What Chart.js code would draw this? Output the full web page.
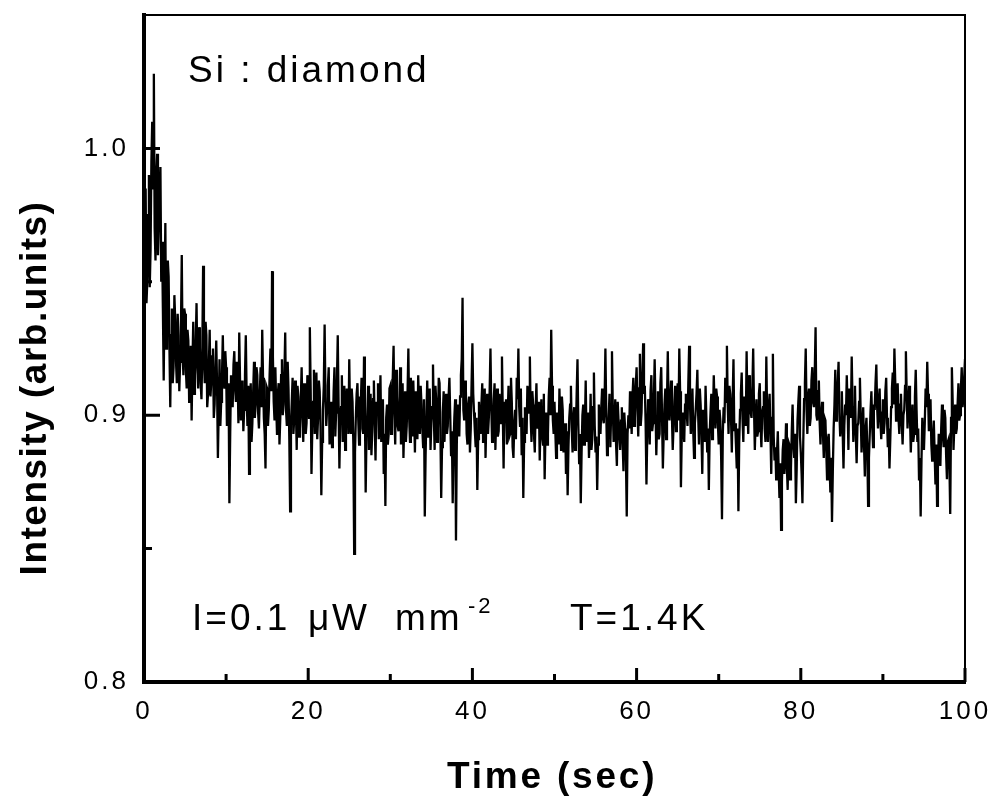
<!DOCTYPE html>
<html>
<head>
<meta charset="utf-8">
<script src="https://cdn.jsdelivr.net/npm/chart.js@4.4.1/dist/chart.umd.min.js"></script>
<style>
  html, body { margin: 0; padding: 0; background: #fff; }
  #c { display: block; }
</style>
</head>
<body>
<canvas id="c" width="997" height="797"></canvas>
<script>
// Photoluminescence intensity of the Si:diamond sample, one reading every 0.1 s.
const sampleStep = 0.1; // seconds between readings
const intensity = [
  // 0 - 9.9 s
  0.944, 0.968, 0.985, 0.942, 0.950, 0.975, 0.990, 0.948, 0.962, 0.995,
  1.010, 0.985, 1.028, 0.970, 0.958, 0.990, 0.998, 0.960, 0.972, 0.982,
  0.993, 0.950, 0.965, 0.940, 0.913, 0.945, 0.972, 0.925, 0.935, 0.958,
  0.952, 0.925, 0.903, 0.930, 0.940, 0.912, 0.918, 0.945, 0.936, 0.920,
  0.912, 0.938, 0.930, 0.909, 0.920, 0.933, 0.960, 0.924, 0.915, 0.940,
  0.938, 0.917, 0.910, 0.932, 0.928, 0.905, 0.912, 0.926, 0.898, 0.919,
  0.935, 0.908, 0.915, 0.927, 0.942, 0.918, 0.910, 0.933, 0.926, 0.912,
  0.906, 0.924, 0.956, 0.921, 0.912, 0.935, 0.930, 0.903, 0.908, 0.919,
  0.932, 0.907, 0.913, 0.922, 0.925, 0.899, 0.904, 0.917, 0.928, 0.911,
  0.884, 0.902, 0.921, 0.896, 0.905, 0.915, 0.930, 0.913, 0.910, 0.924,
  // 10 - 19.9 s
  0.918, 0.896, 0.900, 0.912, 0.867, 0.893, 0.915, 0.908, 0.903, 0.919,
  0.924, 0.910, 0.905, 0.920, 0.916, 0.897, 0.931, 0.913, 0.898, 0.907,
  0.913, 0.894, 0.902, 0.915, 0.930, 0.908, 0.896, 0.911, 0.878, 0.903,
  0.912, 0.890, 0.897, 0.909, 0.920, 0.899, 0.904, 0.918, 0.915, 0.901,
  0.895, 0.907, 0.918, 0.903, 0.932, 0.914, 0.899, 0.893, 0.880, 0.911,
  0.910, 0.896, 0.902, 0.915, 0.925, 0.909, 0.954, 0.922, 0.905, 0.898,
  0.918, 0.904, 0.893, 0.908, 0.912, 0.889, 0.899, 0.915, 0.921, 0.900,
  0.904, 0.915, 0.931, 0.902, 0.896, 0.920, 0.910, 0.891, 0.864, 0.897,
  0.905, 0.914, 0.893, 0.899, 0.913, 0.903, 0.887, 0.911, 0.907, 0.892,
  0.895, 0.906, 0.918, 0.901, 0.890, 0.912, 0.904, 0.893, 0.897, 0.915,
  // 20 - 29.9 s
  0.912, 0.899, 0.933, 0.910, 0.878, 0.895, 0.905, 0.917, 0.893, 0.902,
  0.916, 0.891, 0.899, 0.913, 0.909, 0.896, 0.870, 0.890, 0.902, 0.911,
  0.934, 0.907, 0.896, 0.902, 0.911, 0.918, 0.889, 0.897, 0.905, 0.888,
  0.894, 0.909, 0.918, 0.892, 0.901, 0.913, 0.930, 0.904, 0.880, 0.898,
  0.903, 0.915, 0.890, 0.900, 0.911, 0.887, 0.897, 0.910, 0.906, 0.893,
  0.921, 0.900, 0.893, 0.910, 0.905, 0.889, 0.848, 0.886, 0.899, 0.908,
  0.912, 0.898, 0.889, 0.907, 0.904, 0.914, 0.895, 0.893, 0.922, 0.904,
  0.871, 0.893, 0.900, 0.911, 0.887, 0.899, 0.908, 0.885, 0.894, 0.906,
  0.913, 0.897, 0.883, 0.905, 0.902, 0.912, 0.891, 0.900, 0.915, 0.890,
  0.897, 0.906, 0.878, 0.893, 0.866, 0.899, 0.904, 0.889, 0.893, 0.910,
  // 30 - 39.9 s
  0.911, 0.893, 0.898, 0.914, 0.926, 0.900, 0.889, 0.917, 0.907, 0.896,
  0.894, 0.905, 0.918, 0.889, 0.901, 0.912, 0.884, 0.897, 0.909, 0.890,
  0.896, 0.908, 0.925, 0.899, 0.890, 0.914, 0.903, 0.892, 0.913, 0.901,
  0.886, 0.909, 0.898, 0.891, 0.915, 0.902, 0.893, 0.911, 0.904, 0.895,
  0.888, 0.906, 0.862, 0.885, 0.900, 0.913, 0.892, 0.899, 0.910, 0.887,
  0.897, 0.903, 0.919, 0.900, 0.887, 0.911, 0.905, 0.890, 0.895, 0.914,
  0.912, 0.895, 0.869, 0.888, 0.901, 0.909, 0.890, 0.903, 0.908, 0.893,
  0.896, 0.907, 0.914, 0.900, 0.885, 0.894, 0.867, 0.889, 0.899, 0.906,
  0.853, 0.889, 0.904, 0.898, 0.892, 0.907, 0.915, 0.921, 0.944, 0.902,
  0.898, 0.913, 0.910, 0.893, 0.889, 0.904, 0.907, 0.886, 0.895, 0.912,
  // 40 - 49.9 s
  0.927, 0.908, 0.901, 0.894, 0.888, 0.899, 0.872, 0.891, 0.905, 0.897,
  0.893, 0.904, 0.912, 0.890, 0.897, 0.910, 0.884, 0.899, 0.908, 0.893,
  0.899, 0.909, 0.925, 0.903, 0.890, 0.896, 0.906, 0.912, 0.887, 0.900,
  0.910, 0.892, 0.894, 0.908, 0.903, 0.897, 0.922, 0.901, 0.880, 0.905,
  0.898, 0.906, 0.889, 0.900, 0.911, 0.892, 0.893, 0.914, 0.905, 0.888,
  0.884, 0.897, 0.902, 0.891, 0.914, 0.906, 0.925, 0.903, 0.896, 0.910,
  0.885, 0.899, 0.869, 0.890, 0.903, 0.895, 0.893, 0.911, 0.908, 0.901,
  0.922, 0.899, 0.890, 0.909, 0.904, 0.893, 0.886, 0.902, 0.912, 0.895,
  0.897, 0.905, 0.883, 0.898, 0.906, 0.892, 0.889, 0.908, 0.876, 0.894,
  0.901, 0.889, 0.893, 0.907, 0.914, 0.900, 0.932, 0.911, 0.898, 0.893,
  // 50 - 59.9 s
  0.905, 0.894, 0.884, 0.901, 0.897, 0.889, 0.910, 0.898, 0.887, 0.907,
  0.902, 0.886, 0.891, 0.897, 0.878, 0.894, 0.870, 0.888, 0.899, 0.904,
  0.911, 0.895, 0.886, 0.899, 0.903, 0.887, 0.893, 0.908, 0.921, 0.897,
  0.882, 0.893, 0.867, 0.886, 0.900, 0.904, 0.889, 0.896, 0.913, 0.890,
  0.895, 0.901, 0.884, 0.893, 0.908, 0.887, 0.891, 0.903, 0.916, 0.896,
  0.886, 0.892, 0.872, 0.889, 0.904, 0.897, 0.893, 0.903, 0.910, 0.899,
  0.897, 0.905, 0.925, 0.902, 0.885, 0.893, 0.899, 0.908, 0.888, 0.901,
  0.924, 0.903, 0.890, 0.896, 0.906, 0.889, 0.881, 0.905, 0.898, 0.892,
  0.887, 0.898, 0.903, 0.890, 0.879, 0.901, 0.895, 0.884, 0.862, 0.893,
  0.900, 0.895, 0.909, 0.902, 0.893, 0.907, 0.914, 0.896, 0.899, 0.911,
  // 60 - 69.9 s
  0.918, 0.904, 0.892, 0.910, 0.923, 0.896, 0.901, 0.915, 0.927, 0.908,
  0.911, 0.897, 0.874, 0.893, 0.906, 0.901, 0.889, 0.909, 0.915, 0.894,
  0.897, 0.906, 0.921, 0.903, 0.885, 0.898, 0.909, 0.891, 0.893, 0.912,
  0.918, 0.899, 0.880, 0.893, 0.904, 0.910, 0.891, 0.905, 0.924, 0.902,
  0.898, 0.907, 0.913, 0.900, 0.887, 0.896, 0.905, 0.911, 0.894, 0.903,
  0.912, 0.898, 0.925, 0.909, 0.873, 0.892, 0.901, 0.896, 0.890, 0.904,
  0.908, 0.901, 0.896, 0.912, 0.926, 0.905, 0.893, 0.899, 0.910, 0.894,
  0.884, 0.897, 0.902, 0.908, 0.917, 0.900, 0.889, 0.910, 0.904, 0.893,
  0.878, 0.902, 0.897, 0.890, 0.911, 0.899, 0.886, 0.895, 0.872, 0.893,
  0.901, 0.908, 0.891, 0.899, 0.915, 0.903, 0.895, 0.910, 0.907, 0.897,
  // 70 - 79.9 s
  0.889, 0.902, 0.898, 0.884, 0.861, 0.893, 0.903, 0.897, 0.914, 0.905,
  0.926, 0.904, 0.893, 0.911, 0.908, 0.899, 0.886, 0.906, 0.921, 0.894,
  0.897, 0.889, 0.880, 0.895, 0.864, 0.890, 0.902, 0.908, 0.916, 0.899,
  0.890, 0.907, 0.905, 0.896, 0.924, 0.902, 0.893, 0.915, 0.911, 0.901,
  0.899, 0.910, 0.925, 0.903, 0.887, 0.898, 0.906, 0.892, 0.894, 0.908,
  0.912, 0.896, 0.888, 0.901, 0.903, 0.909, 0.895, 0.890, 0.922, 0.900,
  0.890, 0.903, 0.908, 0.894, 0.878, 0.899, 0.923, 0.892, 0.883, 0.888,
  0.876, 0.886, 0.894, 0.880, 0.869, 0.882, 0.857, 0.875, 0.887, 0.891,
  0.878, 0.885, 0.897, 0.881, 0.872, 0.890, 0.889, 0.876, 0.880, 0.894,
  0.904, 0.889, 0.884, 0.893, 0.867, 0.880, 0.898, 0.905, 0.911, 0.892,
  // 80 - 89.9 s
  0.886, 0.878, 0.867, 0.890, 0.906, 0.912, 0.925, 0.902, 0.893, 0.907,
  0.910, 0.896, 0.899, 0.913, 0.918, 0.905, 0.903, 0.916, 0.933, 0.900,
  0.898, 0.909, 0.913, 0.897, 0.889, 0.901, 0.905, 0.893, 0.884, 0.899,
  0.898, 0.887, 0.876, 0.891, 0.893, 0.882, 0.871, 0.884, 0.860, 0.879,
  0.895, 0.904, 0.917, 0.898, 0.906, 0.912, 0.920, 0.901, 0.892, 0.897,
  0.909, 0.894, 0.880, 0.896, 0.904, 0.900, 0.915, 0.903, 0.887, 0.910,
  0.908, 0.899, 0.922, 0.905, 0.890, 0.903, 0.911, 0.893, 0.882, 0.896,
  0.897, 0.905, 0.914, 0.900, 0.886, 0.894, 0.903, 0.889, 0.877, 0.895,
  0.899, 0.887, 0.866, 0.884, 0.893, 0.902, 0.909, 0.896, 0.888, 0.904,
  0.902, 0.912, 0.919, 0.903, 0.895, 0.906, 0.910, 0.898, 0.891, 0.901,
  // 90 - 100 s
  0.906, 0.893, 0.897, 0.909, 0.914, 0.899, 0.888, 0.895, 0.880, 0.891,
  0.903, 0.910, 0.916, 0.904, 0.925, 0.913, 0.898, 0.906, 0.912, 0.899,
  0.893, 0.904, 0.908, 0.897, 0.889, 0.900, 0.902, 0.911, 0.924, 0.908,
  0.895, 0.903, 0.911, 0.899, 0.886, 0.897, 0.904, 0.890, 0.893, 0.907,
  0.917, 0.902, 0.890, 0.895, 0.876, 0.884, 0.862, 0.883, 0.899, 0.891,
  0.887, 0.897, 0.910, 0.903, 0.920, 0.908, 0.894, 0.900, 0.906, 0.889,
  0.883, 0.892, 0.898, 0.886, 0.874, 0.889, 0.866, 0.880, 0.893, 0.887,
  0.881, 0.895, 0.904, 0.893, 0.888, 0.902, 0.899, 0.885, 0.876, 0.890,
  0.891, 0.882, 0.863, 0.899, 0.918, 0.905, 0.887, 0.896, 0.904, 0.893,
  0.895, 0.904, 0.912, 0.898, 0.900, 0.910, 0.918, 0.903, 0.906, 0.914,
  0.921
];

// Axis ticks
const xMajorTicks = [0, 20, 40, 60, 80, 100];
const xMinorTicks = [10, 30, 50, 70, 90];
const yMajorTicks = [0.8, 0.9, 1.0];
const yMinorTicks = [0.85, 0.95];
const xRange = [0, 100];
const yRange = [0.8, 1.05];

// Text
const xTitle = 'Time (sec)';
const yTitle = 'Intensity (arb.units)';
const sampleLabel = 'Si : diamond';
const temperatureLabel = 'T=1.4K';

const points = intensity.map((v, i) => ({ x: +(i * sampleStep).toFixed(1), y: v }));

const FONT = '"Liberation Sans", Arial, Helvetica, sans-serif';
Chart.defaults.color = '#000';
Chart.defaults.font.family = FONT;

// Frame, inward tick marks, annotations and axis titles
const framePlugin = {
  id: 'frame',
  beforeDraw(chart) {
    chart.ctx.letterSpacing = '3px';
  },
  afterDraw(chart) {
    const { ctx, chartArea: a, scales: { x, y } } = chart;
    ctx.save();
    ctx.strokeStyle = '#000';
    ctx.lineCap = 'butt';

    // thin top and right edges
    ctx.lineWidth = 2;
    ctx.beginPath();
    ctx.moveTo(a.left, a.top);
    ctx.lineTo(a.right, a.top);
    ctx.lineTo(a.right, a.bottom);
    ctx.stroke();

    // heavy left and bottom axes
    ctx.lineWidth = 4;
    ctx.beginPath();
    ctx.moveTo(a.left, a.top - 2);
    ctx.lineTo(a.left, a.bottom + 2);
    ctx.moveTo(a.left - 2, a.bottom);
    ctx.lineTo(a.right + 1, a.bottom);
    ctx.stroke();

    // inward ticks
    ctx.lineWidth = 3;
    ctx.beginPath();
    xMajorTicks.forEach(v => { const p = x.getPixelForValue(v); ctx.moveTo(p, a.bottom); ctx.lineTo(p, a.bottom - 14); });
    xMinorTicks.forEach(v => { const p = x.getPixelForValue(v); ctx.moveTo(p, a.bottom); ctx.lineTo(p, a.bottom - 8); });
    yMajorTicks.forEach(v => { const p = y.getPixelForValue(v); ctx.moveTo(a.left, p); ctx.lineTo(a.left + 16, p); });
    yMinorTicks.forEach(v => { const p = y.getPixelForValue(v); ctx.moveTo(a.left, p); ctx.lineTo(a.left + 8, p); });
    ctx.stroke();

    ctx.fillStyle = '#000';
    ctx.textBaseline = 'alphabetic';
    ctx.textAlign = 'left';
    ctx.letterSpacing = '3px';

    // annotations
    ctx.font = '37px ' + FONT;
    ctx.fillText(sampleLabel, 188, 82);
    ctx.fillText('I=0.1', 192, 630);
    ctx.fillText('\u03BC', 308, 630);
    ctx.fillText('W', 332, 630);
    ctx.fillText('mm', 395, 630);
    ctx.fillText(temperatureLabel, 570, 630);
    ctx.font = '22px ' + FONT;
    ctx.fillText('-2', 468, 613);

    // axis titles
    ctx.font = 'bold 37px ' + FONT;
    ctx.letterSpacing = '2.8px';
    ctx.fillText(xTitle, 447, 788);

    ctx.letterSpacing = '1.5px';
    ctx.translate(46, 388);
    ctx.rotate(-Math.PI / 2);
    ctx.textAlign = 'center';
    ctx.fillText(yTitle, 0, 0);
    ctx.restore();
  }
};

new Chart(document.getElementById('c'), {
  type: 'line',
  data: {
    datasets: [{
      data: points,
      borderColor: '#000',
      borderWidth: 2.3,
      pointRadius: 0,
      tension: 0,
      fill: false
    }]
  },
  options: {
    responsive: false,
    devicePixelRatio: 1,
    animation: false,
    events: [],
    layout: { padding: { top: 15, right: 32, left: 0, bottom: 0 } },
    plugins: { legend: { display: false }, tooltip: { enabled: false } },
    scales: {
      x: {
        type: 'linear',
        min: xRange[0],
        max: xRange[1],
        grid: { display: false, drawTicks: false },
        border: { display: false },
        ticks: {
          stepSize: 10,
          autoSkip: false,
          maxRotation: 0,
          padding: 14,
          font: { size: 26 },
          callback: v => (xMajorTicks.includes(v) ? String(v) : '')
        },
        afterFit: s => { s.height = 115; s.paddingLeft = 0; s.paddingRight = 0; }
      },
      y: {
        min: yRange[0],
        max: yRange[1],
        grid: { display: false, drawTicks: false },
        border: { display: false },
        ticks: {
          stepSize: 0.05,
          autoSkip: false,
          padding: 15,
          font: { size: 26 },
          callback: v => {
            const r = Math.round(v * 100);
            return r % 10 === 0 && r <= 100 ? (r / 100).toFixed(1) : '';
          }
        },
        afterFit: s => { s.width = 144; s.paddingTop = 0; s.paddingBottom = 0; }
      }
    }
  },
  plugins: [framePlugin]
});
</script>
</body>
</html>
